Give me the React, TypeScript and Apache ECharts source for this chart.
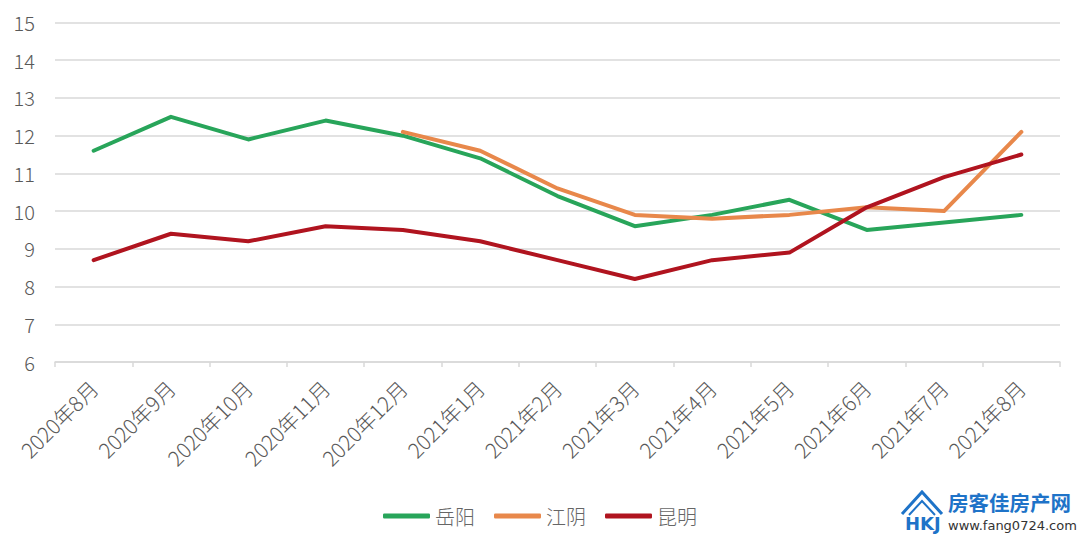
import React, { useEffect, useRef } from "react";
import * as echarts from "echarts";

const categories = [
  "2020年8月", "2020年9月", "2020年10月", "2020年11月", "2020年12月",
  "2021年1月", "2021年2月", "2021年3月", "2021年4月", "2021年5月",
  "2021年6月", "2021年7月", "2021年8月",
];
const yueyang = [11.6, 12.5, 11.9, 12.4, 12.0, 11.4, 10.4, 9.6, 9.9, 10.3, 9.5, 9.7, 9.9];
const jiangyin = [null, null, null, null, 12.1, 11.6, 10.6, 9.9, 9.8, 9.9, 10.1, 10.0, 12.1];
const kunming = [8.7, 9.4, 9.2, 9.6, 9.5, 9.2, 8.7, 8.2, 8.7, 8.9, 10.1, 10.9, 11.5];
const seriesNames = ["岳阳", "江阴", "昆明"];
const colors = ["#28A55A", "#E8884B", "#B0141F"];

const FONT = "'Noto Sans CJK SC', 'Noto Sans', sans-serif";

export default function App() {
  const ref = useRef<HTMLDivElement>(null);
  useEffect(() => {
    if (!ref.current) return;
    const chart = echarts.init(ref.current, null, { renderer: "svg" });
    const mk = (name: string, data: (number | null)[], color: string) => ({
      name,
      type: "line",
      data,
      showSymbol: false,
      symbol: "none",
      connectNulls: false,
      itemStyle: { color },
      lineStyle: { color, width: 4, cap: "round", join: "round" },
    });
    chart.setOption({
      animation: false,
      backgroundColor: "#ffffff",
      textStyle: { fontFamily: FONT },
      grid: { left: 55, right: 20, top: 22.5, bottom: 178, containLabel: false },
      legend: {
        data: seriesNames,
        left: "center",
        top: 501,
        icon: "roundRect",
        itemWidth: 47,
        itemHeight: 5,
        itemGap: 19,
        textStyle: { color: "#666666", fontSize: 20, fontWeight: 300, fontFamily: FONT },
      },
      xAxis: {
        type: "category",
        data: categories,
        boundaryGap: true,
        axisLine: { lineStyle: { color: "#d9d9d9", width: 1.5 } },
        axisTick: { show: true, length: 5, lineStyle: { color: "#d9d9d9", width: 1.5 } },
        axisLabel: {
          rotate: 45,
          interval: 0,
          color: "#595959",
          fontSize: 21,
          fontWeight: 300,
          margin: 22,
          fontFamily: FONT,
        },
      },
      yAxis: {
        type: "value",
        min: 6,
        max: 15,
        interval: 1,
        axisLine: { show: false },
        axisTick: { show: false },
        splitLine: { lineStyle: { color: "#d9d9d9", width: 1.5 } },
        axisLabel: { color: "#595959", fontSize: 20, fontWeight: 300, margin: 20, fontFamily: FONT },
      },
      series: [
        mk(seriesNames[0], yueyang, colors[0]),
        mk(seriesNames[1], jiangyin, colors[1]),
        mk(seriesNames[2], kunming, colors[2]),
      ],
      graphic: [
        {
          type: "polyline",
          shape: { points: [[902, 514], [922, 492], [942, 514]] },
          style: { stroke: "#1E73C8", lineWidth: 3, fill: "none" },
        },
        {
          type: "polyline",
          shape: { points: [[909, 515], [922, 501], [935, 515]] },
          style: { stroke: "#1E73C8", lineWidth: 2, fill: "none" },
        },
        {
          type: "text",
          x: 905,
          y: 514,
          style: { text: "HKJ", fill: "#1E73C8", fontSize: 18, fontWeight: "bold", fontFamily: "'DejaVu Sans', sans-serif" },
        },
        {
          type: "text",
          x: 948,
          y: 492,
          style: { text: "房客佳房产网", fill: "#1E73C8", fontSize: 20.5, fontWeight: "bold", fontFamily: FONT },
        },
        {
          type: "text",
          x: 948,
          y: 519,
          style: { text: "www.fang0724.com", fill: "#333333", fontSize: 13, fontFamily: "'DejaVu Sans', sans-serif" },
        },
      ],
    });
    return () => chart.dispose();
  }, []);
  return <div ref={ref} style={{ width: 1080, height: 540, position: "absolute", left: 0, top: 0 }} />;
}
